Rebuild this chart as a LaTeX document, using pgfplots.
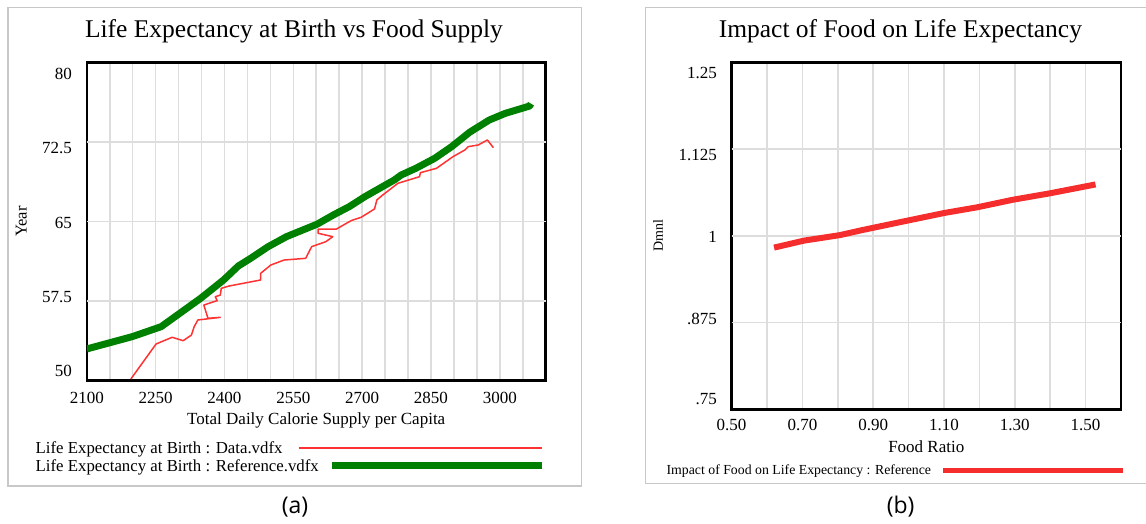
\documentclass[border=0pt]{standalone}
\usepackage{pgfplots}
\pgfplotsset{compat=1.18}
\usepackage{fontspec}
\setmainfont{Liberation Serif}
\newfontfamily\opensans{Open Sans}
\definecolor{gridc}{RGB}{221,221,221}
\definecolor{framec}{RGB}{200,200,200}
\definecolor{dgreen}{RGB}{0,128,0}
\definecolor{lred}{RGB}{255,50,50}
\definecolor{bred}{RGB}{245,45,45}
\pgfplotsset{
  vensim/.style={
    scale only axis,
    anchor=south west,
    axis line style={line width=2.6pt, black},
    major tick length=0pt, minor tick length=0pt,
    xmajorgrids, xminorgrids, ymajorgrids=false,
    major grid style={draw=gridc, line width=1.6pt},
    minor grid style={draw=gridc, line width=1.6pt},
    tick label style={font=\fontsize{17}{20}\selectfont, inner sep=0pt},
    label style={font=\fontsize{17}{20}\selectfont, inner sep=0pt},
    title style={font=\fontsize{25.5}{30}\selectfont, inner sep=0pt, anchor=base},
    xticklabel style={anchor=base, yshift=-22.6pt},
    extra y tick labels={},
    extra y tick style={grid=major},
    legend cell align=left,
    legend plot pos=right,
  }
}
\begin{document}
\begin{tikzpicture}
\path[use as bounding box] (0,0) rectangle (1146pt,524pt);
\draw[framec, line width=1.5pt] (7.9pt,516.7pt) rectangle (581.7pt,38pt);
\draw[framec, line width=1.5pt] (645.3pt,516.7pt) rectangle (1150pt,40.7pt);

\begin{axis}[vensim,
  at={(86.8pt,143.3pt)}, width=458.9pt, height=318.4pt,
  xmin=2100, xmax=3100, ymin=50, ymax=80,
  xtick={2100,2250,2400,2550,2700,2850,3000},
  xticklabels={2100,2250,2400,2550,2700,2850,3000},
  minor xtick={2150,2200,2300,2350,2450,2500,2600,2650,2750,2800,2900,2950,3050},
  ytick={50.92,57.92,64.91,71.91,78.9},
  yticklabels={50,57.5,65,72.5,80},
  yticklabel style={anchor=base east, xshift=-14.8pt, yshift=-5.7pt},
  extra y ticks={57.5,65,72.5},
  title={Life Expectancy at Birth vs Food Supply},
  title style={at={(axis description cs:0.4515,1.0597)}},
  xlabel={Total Daily Calorie Supply per Capita},
  xlabel style={at={(axis description cs:0.5,-0.1391)}, anchor=base},
  ylabel={Year},
  ylabel style={at={(axis description cs:-0.1314,0.5)}, anchor=base, font=\fontsize{16.5}{20}\selectfont},
  legend style={at={(axis description cs:-0.11135,-0.1916)}, anchor=north west,
    draw=none, fill=none, inner sep=0pt, outer sep=0pt,
    row sep=4.9pt, column sep=-21pt,
    font=\fontsize{16.8}{20}\selectfont,
    cells={anchor=base west}, nodes={inner sep=0pt}},
]
\addplot[lred, line width=1.5pt, line join=round,
  legend image code/.code={\draw[lred, line width=1.7pt] (-33.4pt,5.7pt) -- (209.8pt,5.7pt);}]
coordinates {
(2196,50.16) (2251,53.46) (2286,54.09) (2310,53.77) (2328,54.30) (2334,55.09)
(2342,55.72) (2391,55.97) (2364,55.88) (2355,57.13) (2384,57.54) (2380,57.91)
(2391,58.07) (2393,58.70) (2410,58.92) (2479,59.49) (2479,60.12) (2501,60.90)
(2530,61.37) (2577,61.53) (2590,62.63) (2621,63.10) (2636,63.57) (2604,63.89)
(2604,64.29) (2644,64.29) (2676,65.08) (2698,65.40) (2727,66.18) (2732,67.03)
(2745,67.50) (2778,68.60) (2825,69.22) (2827,69.60) (2862,70.01) (2898,71.11)
(2924,71.74) (2931,72.05) (2953,72.21) (2973,72.68) (2986,71.95)
};
\addlegendentry{Life Expectancy at Birth : Data.vdfx}
\addplot[dgreen, line width=7pt, line join=round,
  legend image code/.code={\draw (0pt,5.8pt) -- (209.8pt,5.8pt);}]
coordinates {
(2100,52.99) (2199,54.15) (2262,55.09) (2348,57.76) (2398,59.49) (2430,60.80)
(2457,61.53) (2494,62.60) (2535,63.57) (2602,64.75) (2637,65.61) (2672,66.40)
(2706,67.34) (2770,68.91) (2785,69.38) (2817,70.01) (2858,70.95) (2895,72.05)
(2934,73.40) (2945,73.70) (2977,74.56) (3012,75.19) (3065,75.88) (3068,76.10)
};
\addlegendentry{Life Expectancy at Birth : Reference.vdfx}
\end{axis}

\begin{axis}[vensim,
  at={(731.6pt,114.7pt)}, width=389.4pt, height=347pt,
  xmin=0.5, xmax=1.6, ymin=0.75, ymax=1.25,
  xtick={0.5,0.7,0.9,1.1,1.3,1.5},
  xticklabels={0.50,0.70,0.90,1.10,1.30,1.50},
  xticklabel style={yshift=0.9pt},
  minor xtick={0.6,0.8,1.0,1.2,1.4},
  ytick={0.7648,0.8811,0.9987,1.1165,1.2342},
  yticklabels={.75,.875,1,1.125,1.25},
  yticklabel style={anchor=base east, xshift=-14.6pt, yshift=-5.7pt},
  extra y ticks={0.875,1,1.125},
  title={Impact of Food on Life Expectancy},
  title style={at={(axis description cs:0.4335,1.0548)}},
  xlabel={Food Ratio},
  xlabel style={at={(axis description cs:0.5,-0.1239)}, anchor=base},
  ylabel={Dmnl},
  ylabel style={at={(axis description cs:-0.1762,0.5)}, anchor=base, font=\fontsize{14}{17}\selectfont},
  legend style={at={(axis description cs:-0.1669,-0.1597)}, anchor=north west,
    draw=none, fill=none, inner sep=0pt, outer sep=0pt,
    column sep=9.1pt,
    font=\fontsize{13.8}{16}\selectfont,
    cells={anchor=base west}, nodes={inner sep=0pt}},
]
\addplot[bred, line width=6pt, line join=round,
  legend image code/.code={\draw[line width=5.5pt] (0pt,4pt) -- (179.7pt,4pt);}]
coordinates {
(0.620,0.983) (0.704,0.993) (0.806,1.001) (0.867,1.008) (0.979,1.020)
(1.102,1.033) (1.193,1.041) (1.295,1.052) (1.397,1.061) (1.528,1.074)
};
\addlegendentry{Impact of Food on Life Expectancy : Reference}
\end{axis}

\node[font=\opensans\fontsize{23}{27}\selectfont] at (295pt,17pt) {(a)};
\node[font=\opensans\fontsize{23}{27}\selectfont] at (900.6pt,17pt) {(b)};
\end{tikzpicture}
\end{document}
